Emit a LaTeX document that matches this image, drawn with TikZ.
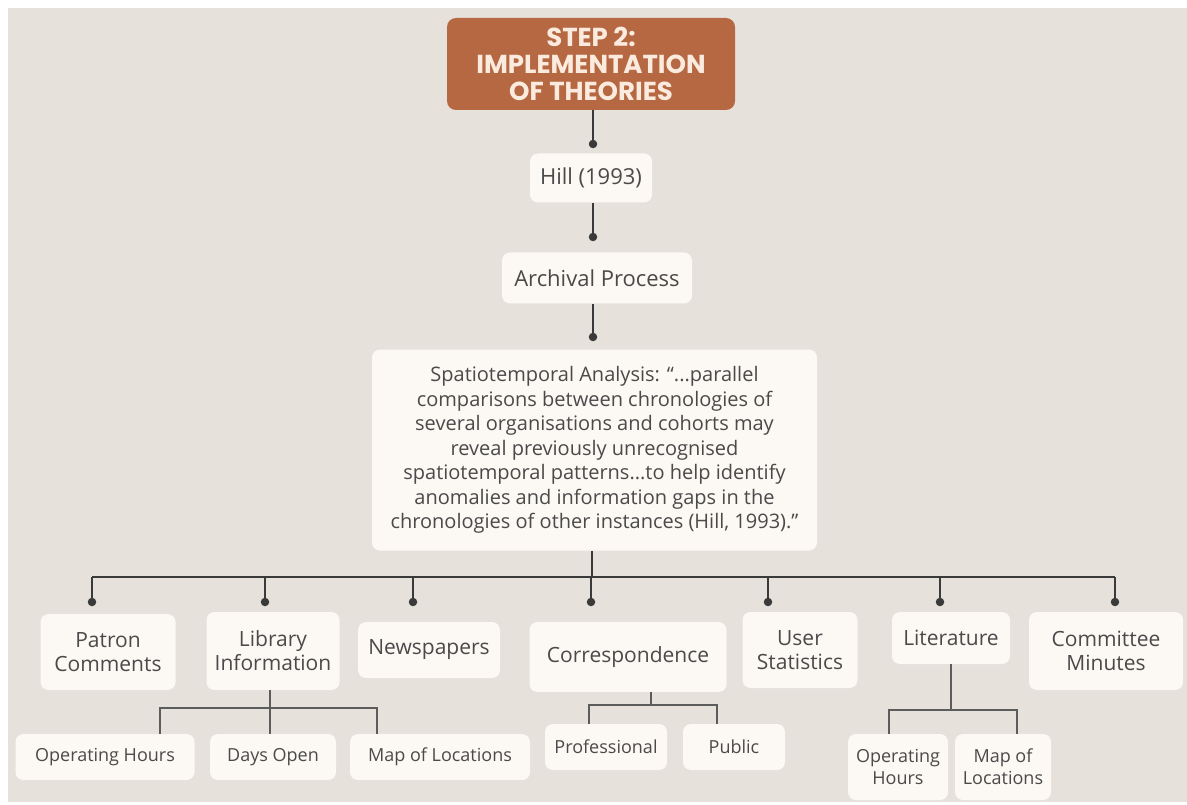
\documentclass[tikz,border=0pt]{standalone}
\usepackage{fontspec}
\setmainfont{Open Sans}
\newfontfamily\titlefont{Poppins}
\definecolor{paper}{HTML}{E6E1DB}
\definecolor{card}{HTML}{FCF8F4}
\definecolor{ink}{HTML}{4A4A4A}
\definecolor{wire}{HTML}{3A3A3A}
\definecolor{rust}{HTML}{B66843}
\definecolor{cream}{HTML}{FBEBDF}
\begin{document}
\begin{tikzpicture}[x=1pt,y=-1pt,
  card/.style={fill=card, rounded corners=8pt, text=ink, align=center, inner sep=0pt},
  lead/.style={card, font=\fontsize{22}{26}\selectfont},
  quote/.style={card, font=\fontsize{20}{24.5}\selectfont},
  item/.style={card, font=\fontsize{21}{24}\selectfont},
  leaf/.style={card, font=\fontsize{18}{22}\selectfont},
  dot/.style={circle, fill=wire, inner sep=0pt, minimum size=8.5pt},
  wire/.style={draw=wire, line width=2.6pt},
  twig/.style={draw=ink!90, line width=2.2pt}]
% page and paper
\fill[white] (0,0) rectangle (1187,805);
\fill[paper] (8,8) rectangle (1187,802);
\useasboundingbox (0,0) rectangle (1187,805);

% header
\node[fill=rust, rounded corners=9pt, text=cream, align=center, inner sep=0pt,
      minimum width=288pt, minimum height=92pt,
      font=\titlefont\bfseries\fontsize{26}{27}\selectfont] (title) at (591,64)
  {STEP 2:\\IMPLEMENTATION\\OF THEORIES};

% spine
\node[dot] (d1) at (593,144) {};
\node[lead, minimum width=122pt, minimum height=49pt] (hill) at (591,178) {Hill (1993)};
\node[dot] (d2) at (593,237) {};
\node[lead, minimum width=190pt, minimum height=51pt] (arch) at (597,278) {Archival Process};
\node[dot] (d3) at (593,337) {};
\node[quote, minimum width=445pt, minimum height=201pt] (spat) at (594.5,450)
  {Spatiotemporal Analysis: ``...parallel\\
   comparisons between chronologies of\\
   several organisations and cohorts may\\
   reveal previously unrecognised\\
   spatiotemporal patterns...to help identify\\
   anomalies and information gaps in the\\
   chronologies of other instances (Hill, 1993).''};

\draw[wire] (title.south -| d1) -- (d1.center);
\draw[wire] (hill.south -| d2) -- (d2.center);
\draw[wire] (arch.south -| d3) -- (d3.center);

% sources row
\node[item, minimum width=135pt, minimum height=76pt] (patron) at (108,652) {Patron\\Comments};
\node[item, minimum width=133pt, minimum height=78pt] (lib) at (273,651) {Library\\Information};
\node[item, minimum width=142pt, minimum height=56pt] (news) at (429,650) {Newspapers};
\node[item, minimum width=197pt, minimum height=70pt] (corr) at (628,657) {Correspondence};
\node[item, minimum width=115pt, minimum height=76pt] (user) at (800,650) {User\\Statistics};
\node[item, minimum width=118pt, minimum height=52pt] (lit) at (951,638) {Literature};
\node[item, minimum width=154pt, minimum height=78pt] (comm) at (1106,651) {Committee\\Minutes};

\foreach \n/\x in {patron/92, lib/265, news/413, corr/591, user/768, lit/940, comm/1115}
  \node[dot] (p\n) at (\x,602) {};

\coordinate (busL) at (92,577);
\coordinate (busR) at (1115,577);
\coordinate (busC) at (592,577);
\draw[wire] (spat.south -| busC) -- (busC);
\draw[wire] (busL) -- (busR);
\foreach \n in {patron, lib, news, corr, user, lit, comm}
  \draw[wire] (p\n.center |- busL) -- (p\n.center);

% library details
\node[leaf, minimum width=179pt, minimum height=46pt] (hours) at (105,757) {Operating Hours};
\node[leaf, minimum width=126pt, minimum height=46pt] (days) at (273,757) {Days Open};
\node[leaf, minimum width=180pt, minimum height=46pt] (maps) at (440,757) {Map of Locations};
\coordinate (libbar) at (270,708);
\draw[twig] (lib.south -| libbar) -- (libbar);
\draw[twig] (hours.north -| 160,0) |- (libbar) -| (maps.north -| 377,0);
\draw[twig] (libbar) -- (days.north -| libbar);

% correspondence details
\node[leaf, minimum width=122pt, minimum height=46pt] (prof) at (606,747) {Professional};
\node[leaf, minimum width=102pt, minimum height=46pt] (pub) at (734,747) {Public};
\coordinate (corrbar) at (651,705);
\draw[twig] (corr.south -| corrbar) -- (corrbar);
\draw[twig] (prof.north -| 589,0) |- (corrbar) -| (pub.north -| 717,0);

% literature details
\node[leaf, minimum width=100pt, minimum height=66pt] (lhours) at (898,767) {Operating\\Hours};
\node[leaf, minimum width=96pt, minimum height=66pt] (lmaps) at (1003,767) {Map of\\Locations};
\coordinate (litbar) at (951,710);
\draw[twig] (lit.south -| litbar) -- (litbar);
\draw[twig] (lhours.north -| 889,0) |- (litbar) -| (lmaps.north -| 1017,0);
\end{tikzpicture}
\end{document}
